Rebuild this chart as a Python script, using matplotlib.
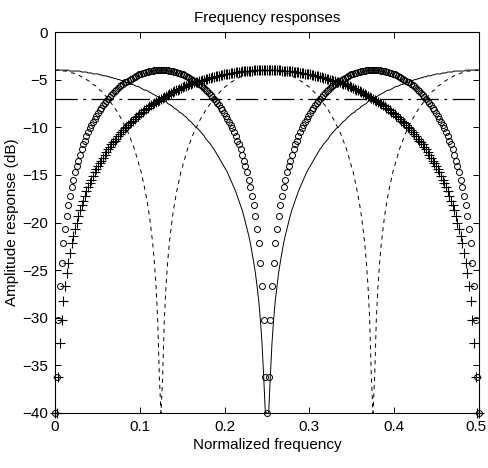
import numpy as np
import matplotlib
matplotlib.use('Agg')
import matplotlib.pyplot as plt
from matplotlib.transforms import ScaledTranslation

plt.rcParams['font.family'] = ['Liberation Sans', 'DejaVu Sans']
plt.rcParams['lines.scale_dashes'] = False

# 257 frequency bins from 0 to 0.5 (step 1/512)
freq = np.arange(257) / 512

# amplitude responses in dB (floor at -40 dB)
band_low = [  # solid line
    -4.0,
    -4.0, -4.0, -4.0, -4.0, -4.0, -4.0, -4.0, -4.0, -4.1, -4.1,
    -4.1, -4.1, -4.1, -4.1, -4.1, -4.2, -4.2, -4.2, -4.2, -4.3,
    -4.3, -4.3, -4.4, -4.4, -4.4, -4.4, -4.5, -4.5, -4.6, -4.6,
    -4.6, -4.7, -4.7, -4.8, -4.8, -4.9, -4.9, -5.0, -5.0, -5.1,
    -5.1, -5.2, -5.3, -5.3, -5.4, -5.5, -5.5, -5.6, -5.7, -5.7,
    -5.8, -5.9, -6.0, -6.1, -6.1, -6.2, -6.3, -6.4, -6.5, -6.6,
    -6.7, -6.8, -6.9, -7.0, -7.1, -7.2, -7.3, -7.5, -7.6, -7.7,
    -7.8, -8.0, -8.1, -8.2, -8.4, -8.5, -8.6, -8.8, -8.9, -9.1,
    -9.3, -9.4, -9.6, -9.8, -10.0, -10.1, -10.3, -10.5, -10.7, -10.9,
    -11.2, -11.4, -11.6, -11.8, -12.1, -12.3, -12.6, -12.9, -13.2, -13.5,
    -13.8, -14.1, -14.4, -14.7, -15.1, -15.5, -15.9, -16.3, -16.7, -17.2,
    -17.7, -18.2, -18.7, -19.3, -20.0, -20.7, -21.4, -22.2, -23.2, -24.2,
    -25.3, -26.7, -28.2, -30.2, -32.7, -36.2, -40.0, -40.0,
    -40.0, -36.2, -32.7, -30.2, -28.2, -26.7, -25.3, -24.2, -23.2,
    -22.2, -21.4, -20.7, -20.0, -19.3, -18.7, -18.2, -17.7, -17.2, -16.7,
    -16.3, -15.9, -15.5, -15.1, -14.7, -14.4, -14.1, -13.8, -13.5, -13.2,
    -12.9, -12.6, -12.3, -12.1, -11.8, -11.6, -11.4, -11.2, -10.9, -10.7,
    -10.5, -10.3, -10.1, -10.0, -9.8, -9.6, -9.4, -9.3, -9.1, -8.9,
    -8.8, -8.6, -8.5, -8.4, -8.2, -8.1, -8.0, -7.8, -7.7, -7.6,
    -7.5, -7.3, -7.2, -7.1, -7.0, -6.9, -6.8, -6.7, -6.6, -6.5,
    -6.4, -6.3, -6.2, -6.1, -6.1, -6.0, -5.9, -5.8, -5.7, -5.7,
    -5.6, -5.5, -5.5, -5.4, -5.3, -5.3, -5.2, -5.1, -5.1, -5.0,
    -5.0, -4.9, -4.9, -4.8, -4.8, -4.7, -4.7, -4.6, -4.6, -4.6,
    -4.5, -4.5, -4.4, -4.4, -4.4, -4.4, -4.3, -4.3, -4.3, -4.2,
    -4.2, -4.2, -4.2, -4.1, -4.1, -4.1, -4.1, -4.1, -4.1, -4.1,
    -4.0, -4.0, -4.0, -4.0, -4.0, -4.0, -4.0, -4.0, -4.0,
]

band_mid = [  # '+' markers
    -40.0, -40.0, -36.2, -32.7, -30.2, -28.2, -26.7, -25.3, -24.2, -23.2,
    -22.2, -21.4, -20.7, -20.0, -19.3, -18.7, -18.2, -17.7, -17.2, -16.7,
    -16.3, -15.9, -15.5, -15.1, -14.7, -14.4, -14.1, -13.8, -13.5, -13.2,
    -12.9, -12.6, -12.3, -12.1, -11.8, -11.6, -11.4, -11.2, -10.9, -10.7,
    -10.5, -10.3, -10.1, -10.0, -9.8, -9.6, -9.4, -9.3, -9.1, -8.9,
    -8.8, -8.6, -8.5, -8.4, -8.2, -8.1, -8.0, -7.8, -7.7, -7.6,
    -7.5, -7.3, -7.2, -7.1, -7.0, -6.9, -6.8, -6.7, -6.6, -6.5,
    -6.4, -6.3, -6.2, -6.1, -6.1, -6.0, -5.9, -5.8, -5.7, -5.7,
    -5.6, -5.5, -5.5, -5.4, -5.3, -5.3, -5.2, -5.1, -5.1, -5.0,
    -5.0, -4.9, -4.9, -4.8, -4.8, -4.7, -4.7, -4.6, -4.6, -4.6,
    -4.5, -4.5, -4.4, -4.4, -4.4, -4.4, -4.3, -4.3, -4.3, -4.2,
    -4.2, -4.2, -4.2, -4.1, -4.1, -4.1, -4.1, -4.1, -4.1, -4.1,
    -4.0, -4.0, -4.0, -4.0, -4.0, -4.0, -4.0, -4.0, -4.0,
    -4.0, -4.0, -4.0, -4.0, -4.0, -4.0, -4.0, -4.0, -4.1, -4.1,
    -4.1, -4.1, -4.1, -4.1, -4.1, -4.2, -4.2, -4.2, -4.2, -4.3,
    -4.3, -4.3, -4.4, -4.4, -4.4, -4.4, -4.5, -4.5, -4.6, -4.6,
    -4.6, -4.7, -4.7, -4.8, -4.8, -4.9, -4.9, -5.0, -5.0, -5.1,
    -5.1, -5.2, -5.3, -5.3, -5.4, -5.5, -5.5, -5.6, -5.7, -5.7,
    -5.8, -5.9, -6.0, -6.1, -6.1, -6.2, -6.3, -6.4, -6.5, -6.6,
    -6.7, -6.8, -6.9, -7.0, -7.1, -7.2, -7.3, -7.5, -7.6, -7.7,
    -7.8, -8.0, -8.1, -8.2, -8.4, -8.5, -8.6, -8.8, -8.9, -9.1,
    -9.3, -9.4, -9.6, -9.8, -10.0, -10.1, -10.3, -10.5, -10.7, -10.9,
    -11.2, -11.4, -11.6, -11.8, -12.1, -12.3, -12.6, -12.9, -13.2, -13.5,
    -13.8, -14.1, -14.4, -14.7, -15.1, -15.5, -15.9, -16.3, -16.7, -17.2,
    -17.7, -18.2, -18.7, -19.3, -20.0, -20.7, -21.4, -22.2, -23.2, -24.2,
    -25.3, -26.7, -28.2, -30.2, -32.7, -36.2, -40.0, -40.0,
]

band_q = [  # 'o' markers
    -40.0, -36.2, -30.2, -26.7, -24.2, -22.2, -20.7, -19.3, -18.2, -17.2,
    -16.3, -15.5, -14.7, -14.1, -13.5, -12.9, -12.3, -11.8, -11.4, -10.9,
    -10.5, -10.1, -9.8, -9.4, -9.1, -8.8, -8.5, -8.2, -8.0, -7.7,
    -7.5, -7.2, -7.0, -6.8, -6.6, -6.4, -6.2, -6.1, -5.9, -5.7,
    -5.6, -5.5, -5.3, -5.2, -5.1, -5.0, -4.9, -4.8, -4.7, -4.6,
    -4.5, -4.4, -4.4, -4.3, -4.3, -4.2, -4.2, -4.1, -4.1, -4.1,
    -4.0, -4.0, -4.0, -4.0, -4.0,
    -4.0, -4.0, -4.0, -4.0, -4.1, -4.1, -4.1, -4.2, -4.2, -4.3,
    -4.3, -4.4, -4.4, -4.5, -4.6, -4.7, -4.8, -4.9, -5.0, -5.1,
    -5.2, -5.3, -5.5, -5.6, -5.7, -5.9, -6.1, -6.2, -6.4, -6.6,
    -6.8, -7.0, -7.2, -7.5, -7.7, -8.0, -8.2, -8.5, -8.8, -9.1,
    -9.4, -9.8, -10.1, -10.5, -10.9, -11.4, -11.8, -12.3, -12.9, -13.5,
    -14.1, -14.7, -15.5, -16.3, -17.2, -18.2, -19.3, -20.7, -22.2, -24.2,
    -26.7, -30.2, -36.2, -40.0,
    -36.2, -30.2, -26.7, -24.2, -22.2, -20.7, -19.3, -18.2, -17.2,
    -16.3, -15.5, -14.7, -14.1, -13.5, -12.9, -12.3, -11.8, -11.4, -10.9,
    -10.5, -10.1, -9.8, -9.4, -9.1, -8.8, -8.5, -8.2, -8.0, -7.7,
    -7.5, -7.2, -7.0, -6.8, -6.6, -6.4, -6.2, -6.1, -5.9, -5.7,
    -5.6, -5.5, -5.3, -5.2, -5.1, -5.0, -4.9, -4.8, -4.7, -4.6,
    -4.5, -4.4, -4.4, -4.3, -4.3, -4.2, -4.2, -4.1, -4.1, -4.1,
    -4.0, -4.0, -4.0, -4.0, -4.0,
    -4.0, -4.0, -4.0, -4.0, -4.1, -4.1, -4.1, -4.2, -4.2, -4.3,
    -4.3, -4.4, -4.4, -4.5, -4.6, -4.7, -4.8, -4.9, -5.0, -5.1,
    -5.2, -5.3, -5.5, -5.6, -5.7, -5.9, -6.1, -6.2, -6.4, -6.6,
    -6.8, -7.0, -7.2, -7.5, -7.7, -8.0, -8.2, -8.5, -8.8, -9.1,
    -9.4, -9.8, -10.1, -10.5, -10.9, -11.4, -11.8, -12.3, -12.9, -13.5,
    -14.1, -14.7, -15.5, -16.3, -17.2, -18.2, -19.3, -20.7, -22.2, -24.2,
    -26.7, -30.2, -36.2, -40.0,
]

band_edge = [  # dashed line
    -4.0,
    -4.0, -4.0, -4.0, -4.0, -4.1, -4.1, -4.1, -4.2, -4.2, -4.3,
    -4.3, -4.4, -4.4, -4.5, -4.6, -4.7, -4.8, -4.9, -5.0, -5.1,
    -5.2, -5.3, -5.5, -5.6, -5.7, -5.9, -6.1, -6.2, -6.4, -6.6,
    -6.8, -7.0, -7.2, -7.5, -7.7, -8.0, -8.2, -8.5, -8.8, -9.1,
    -9.4, -9.8, -10.1, -10.5, -10.9, -11.4, -11.8, -12.3, -12.9, -13.5,
    -14.1, -14.7, -15.5, -16.3, -17.2, -18.2, -19.3, -20.7, -22.2, -24.2,
    -26.7, -30.2, -36.2, -40.0,
    -36.2, -30.2, -26.7, -24.2, -22.2, -20.7, -19.3, -18.2, -17.2,
    -16.3, -15.5, -14.7, -14.1, -13.5, -12.9, -12.3, -11.8, -11.4, -10.9,
    -10.5, -10.1, -9.8, -9.4, -9.1, -8.8, -8.5, -8.2, -8.0, -7.7,
    -7.5, -7.2, -7.0, -6.8, -6.6, -6.4, -6.2, -6.1, -5.9, -5.7,
    -5.6, -5.5, -5.3, -5.2, -5.1, -5.0, -4.9, -4.8, -4.7, -4.6,
    -4.5, -4.4, -4.4, -4.3, -4.3, -4.2, -4.2, -4.1, -4.1, -4.1,
    -4.0, -4.0, -4.0, -4.0, -4.0,
    -4.0, -4.0, -4.0, -4.0, -4.1, -4.1, -4.1, -4.2, -4.2, -4.3,
    -4.3, -4.4, -4.4, -4.5, -4.6, -4.7, -4.8, -4.9, -5.0, -5.1,
    -5.2, -5.3, -5.5, -5.6, -5.7, -5.9, -6.1, -6.2, -6.4, -6.6,
    -6.8, -7.0, -7.2, -7.5, -7.7, -8.0, -8.2, -8.5, -8.8, -9.1,
    -9.4, -9.8, -10.1, -10.5, -10.9, -11.4, -11.8, -12.3, -12.9, -13.5,
    -14.1, -14.7, -15.5, -16.3, -17.2, -18.2, -19.3, -20.7, -22.2, -24.2,
    -26.7, -30.2, -36.2, -40.0,
    -36.2, -30.2, -26.7, -24.2, -22.2, -20.7, -19.3, -18.2, -17.2,
    -16.3, -15.5, -14.7, -14.1, -13.5, -12.9, -12.3, -11.8, -11.4, -10.9,
    -10.5, -10.1, -9.8, -9.4, -9.1, -8.8, -8.5, -8.2, -8.0, -7.7,
    -7.5, -7.2, -7.0, -6.8, -6.6, -6.4, -6.2, -6.1, -5.9, -5.7,
    -5.6, -5.5, -5.3, -5.2, -5.1, -5.0, -4.9, -4.8, -4.7, -4.6,
    -4.5, -4.4, -4.4, -4.3, -4.3, -4.2, -4.2, -4.1, -4.1, -4.1,
    -4.0, -4.0, -4.0, -4.0, -4.0,
]

crossover_db = -7.0  # dash-dot reference level

xticks = [0, 0.1, 0.2, 0.3, 0.4, 0.5]
yticks = [0, -5, -10, -15, -20, -25, -30, -35, -40]

fig = plt.figure(figsize=(4.88, 4.68), dpi=100)
ax = fig.add_axes([55 / 488, 55 / 468, 424 / 488, 381 / 468])

ax.plot(freq, band_low, '-', color='k', lw=0.7)
ax.plot(freq, band_edge, color='k', lw=0.7, linestyle=(0, (3, 3)))
ax.plot(freq, band_q, 'o', color='k', mfc='none', ms=4.3, mew=0.7, clip_on=False)
ax.plot(freq, band_mid, '+', color='k', ms=6.5, mew=0.8, clip_on=False)
ax.axhline(crossover_db, color='k', lw=0.9, linestyle=(0, (16, 4, 2, 4)))

ax.set_xlim(0, 0.5)
ax.set_ylim(-40, 0)
ax.set_xticks(xticks)
ax.set_xticklabels([f'{t:g}' for t in xticks])
ax.set_yticks(yticks)
ax.tick_params(direction='in', top=True, right=True, length=4, width=0.7,
               labelsize=11, pad=5)
for s in ax.spines.values():
    s.set_linewidth(0.8)

# keep the last x tick label inside the figure
last = ax.get_xticklabels()[-1]
last.set_transform(last.get_transform() + ScaledTranslation(-3 / 100, 0, fig.dpi_scale_trans))

ax.set_title('Frequency responses', fontsize=11, pad=7)
ax.set_xlabel('Normalized frequency', fontsize=11, labelpad=3)
ax.set_ylabel('Amplitude response (dB)', fontsize=11, labelpad=2)

fig.savefig('out.png', dpi=100)
